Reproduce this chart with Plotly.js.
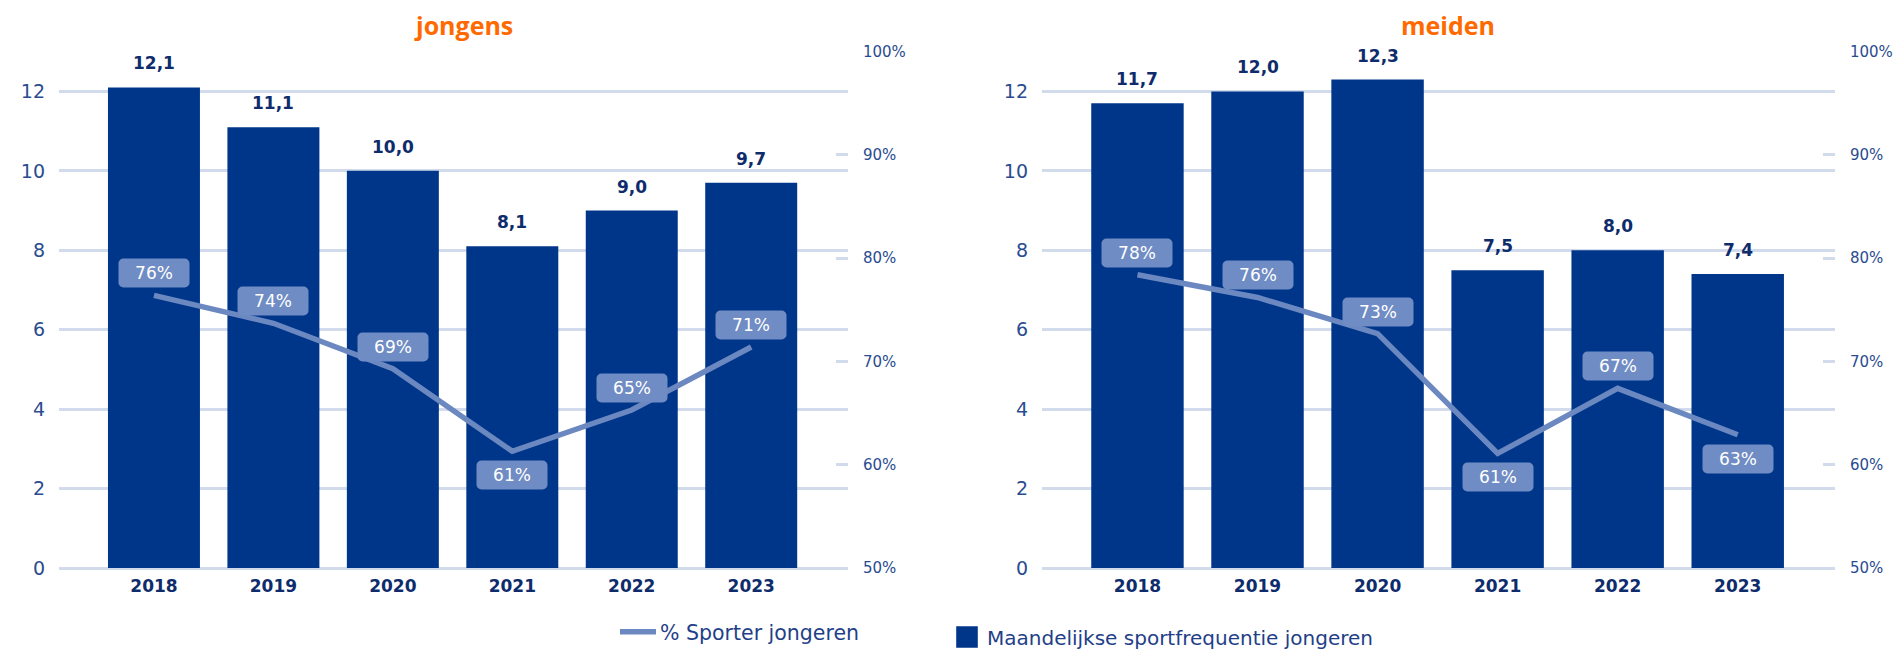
<!DOCTYPE html>
<html>
<head>
<meta charset="utf-8">
<script src="https://cdn.plot.ly/plotly-3.0.1.min.js"></script>
<style>
  html, body { margin: 0; padding: 0; background: #ffffff; }
  #chart { width: 1897px; height: 650px; }
</style>
</head>
<body>
<div id="chart"></div>
<script>
// ---- data ----
const years = ['2018', '2019', '2020', '2021', '2022', '2023'];
const panelTitles = ['jongens', 'meiden'];
const boysFreq = [12.1, 11.1, 10.0, 8.1, 9.0, 9.7];
const girlsFreq = [11.7, 12.0, 12.3, 7.5, 8.0, 7.4];
const boysPct = [0.764, 0.737, 0.693, 0.613, 0.653, 0.714];
const girlsPct = [0.784, 0.762, 0.727, 0.611, 0.674, 0.629];
const freqTicks = [0, 2, 4, 6, 8, 10, 12];
const pctTicks = [0.5, 0.6, 0.7, 0.8, 0.9, 1.0];
const seriesNames = ['% Sporter jongeren', 'Maandelijkse sportfrequentie jongeren'];

// ---- styles ----
const BAR = '#00368a';
const LINE = '#6b88c0';
const BOX = '#6f8cc4';
const GRID = '#d2dbeb';
const NAVY = '#0e2c6c';
const TICK = '#2a4c8f';
const ORANGE = '#ff6a00';
const FONT = 'DejaVu Sans, Verdana, sans-serif';

const fmtComma = v => v.toFixed(1).replace('.', ',');
const fmtPct = v => Math.round(v * 100) + '%';

const panels = [
  { freq: boysFreq, pct: boysPct, xa: 'x', ya: 'y', ya2: 'y2', domain: [0.0311, 0.4470], title: panelTitles[0], titleX: 0.2441 },
  { freq: girlsFreq, pct: girlsPct, xa: 'x2', ya: 'y3', ya2: 'y4', domain: [0.5493, 0.9673], title: panelTitles[1], titleX: 0.7631 }
];

const traces = [];
const annotations = [];

panels.forEach((p, i) => {
  traces.push({
    type: 'bar', x: years, y: p.freq, xaxis: p.xa, yaxis: p.ya,
    marker: { color: BAR }, width: 0.77,
    name: seriesNames[1], legend: 'legend2', showlegend: i === 1,
    hoverinfo: 'skip'
  });
  traces.push({
    type: 'scatter', mode: 'lines', x: years, y: p.pct, xaxis: p.xa, yaxis: p.ya2,
    line: { color: LINE, width: 5.5 },
    name: seriesNames[0], legend: 'legend', showlegend: i === 0,
    hoverinfo: 'skip'
  });
  // bar value labels (x given as category index)
  p.freq.forEach((v, k) => {
    annotations.push({
      x: k, y: v, xref: p.xa, yref: p.ya, text: fmtComma(v),
      showarrow: false, yanchor: 'bottom', yshift: 12,
      font: { family: FONT, size: 17, color: NAVY, weight: 'bold' }
    });
  });
  // percentage labels
  p.pct.forEach((v, k) => {
    const nb = [];
    if (k > 0) nb.push(p.pct[k - 1]);
    if (k < p.pct.length - 1) nb.push(p.pct[k + 1]);
    const below = nb.every(n => v < n);
    annotations.push({
      x: k, y: v, xref: p.xa, yref: p.ya2, text: fmtPct(v),
      showarrow: false, yanchor: 'middle', yshift: below ? -24 : 22,
      width: 68, height: 26, bgcolor: BOX,
      font: { family: FONT, size: 17, color: '#ffffff' }
    });
  });
  // panel title
  annotations.push({
    x: p.titleX, y: 1 - 25 / 650, xref: 'paper', yref: 'paper', text: p.title,
    showarrow: false, xanchor: 'center', yanchor: 'middle',
    font: { family: 'Open Sans, sans-serif', size: 25, color: ORANGE, weight: 'bold' }
  });
});

const yDomain = [1 - 568 / 650, 1 - 51.7 / 650];

function xAxis(domain, anchor) {
  return {
    domain: domain, anchor: anchor, type: 'category', range: [-0.795, 5.81],
    showgrid: false, zeroline: false, showline: false, ticks: '',
    tickfont: { family: FONT, size: 17, color: NAVY, weight: 'bold' },
    ticklabelstandoff: 6,
    automargin: false,
    fixedrange: true
  };
}
function yLeft(anchor) {
  return {
    domain: yDomain, anchor: anchor, range: [0, 13], tickvals: freqTicks,
    showgrid: true, gridcolor: GRID, gridwidth: 3,
    zeroline: true, zerolinecolor: GRID, zerolinewidth: 3,
    showline: false, ticks: '',
    tickfont: { family: FONT, size: 19, color: TICK },
    ticklabelstandoff: 13,
    automargin: false,
    fixedrange: true
  };
}
function yRight(anchor, overlay) {
  return {
    domain: yDomain, anchor: anchor, overlaying: overlay, side: 'right',
    range: [0.5, 1.0], tickvals: pctTicks, tickformat: '.0%',
    showgrid: false, zeroline: false, showline: false,
    ticks: 'inside', ticklen: 12, tickwidth: 3, tickcolor: GRID,
    tickfont: { family: FONT, size: 15, color: TICK },
    ticklabelstandoff: 14,
    automargin: false,
    fixedrange: true
  };
}

const layout = {
  width: 1897, height: 650,
  margin: { l: 0, r: 0, t: 0, b: 0, pad: 0, autoexpand: false },
  paper_bgcolor: '#ffffff', plot_bgcolor: 'rgba(0,0,0,0)',
  font: { family: FONT, color: TICK },
  xaxis: xAxis(panels[0].domain, 'y'),
  yaxis: yLeft('x'),
  yaxis2: yRight('x', 'y'),
  xaxis2: xAxis(panels[1].domain, 'y3'),
  yaxis3: yLeft('x2'),
  yaxis4: yRight('x2', 'y3'),
  legend: {
    x: 620 / 1897, y: 1 - 632 / 650, xanchor: 'left', yanchor: 'middle',
    orientation: 'h', bgcolor: 'rgba(0,0,0,0)',
    font: { family: FONT, size: 20.5, color: '#1f3f88' }
  },
  legend2: {
    x: 947 / 1897, y: 1 - 637 / 650, xanchor: 'left', yanchor: 'middle',
    orientation: 'h', bgcolor: 'rgba(0,0,0,0)',
    font: { family: FONT, size: 20, color: '#1f3f88' }
  },
  annotations: annotations,
  showlegend: true
};

Plotly.newPlot('chart', traces, layout, { displayModeBar: false, staticPlot: true }).then(() => {
  document.querySelectorAll('.annotation rect.bg').forEach(r => {
    r.setAttribute('rx', 5);
    r.setAttribute('ry', 5);
  });
  document.querySelectorAll('.legend2 .legendpoints path').forEach(pth => {
    const t = pth.getAttribute('transform') || '';
    pth.setAttribute('transform', t + ' scale(1.8)');
  });
  document.querySelectorAll('.legend .legendlines path').forEach(pth => {
    pth.setAttribute('d', 'M-10,0h46');
  });
});
</script>
</body>
</html>
